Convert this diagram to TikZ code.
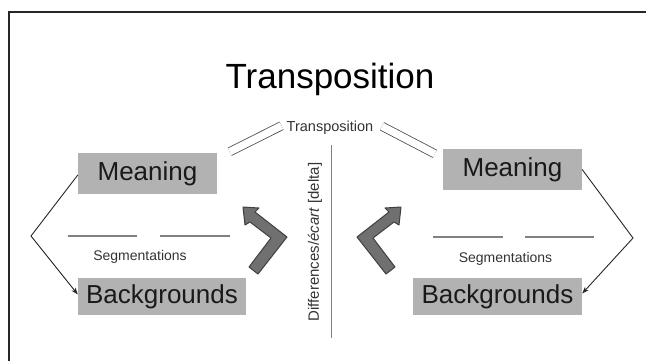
\documentclass[tikz,border=0pt]{standalone}
\usepackage{fontspec}
\setmainfont{Liberation Sans}
\usetikzlibrary{positioning,calc,arrows.meta}

\definecolor{boxgray}{gray}{0.70}
\definecolor{arrowgray}{gray}{0.44}
\definecolor{linegray}{gray}{0.50}

\begin{document}
\begin{tikzpicture}[x=1pt, y=-1pt,
    box/.style = {fill=boxgray, inner sep=0pt, minimum height=41pt, font=\fontsize{26}{30}\selectfont, text=black!90},
    small/.style = {font=\fontsize{14}{16}\selectfont, text=black!80, inner sep=1pt},
    rule/.style = {draw=linegray, line width=1.1pt},
    bracket/.style = {draw=black!85, line width=0.9pt},
    bentarrow/.style = {fill=arrowgray, draw=black!75, line width=1pt, line join=round}]
    \useasboundingbox (0,0) rectangle (646,360);
    % frame
    \draw[line width=2pt, black!85] (9,400) -- (9,12) -- (700,12);
    % Nodes
    \node (title) [anchor=base, font=\fontsize{35}{40}\selectfont] at (330,88) {Transposition};
    \node[small] (tr) [anchor=base, font=\fontsize{14.5}{16}\selectfont] at (330,131) {Transposition};
    \node[box, minimum width=139pt] (lm) at (147.5,173.5) {Meaning};
    \node[box, minimum width=168pt, minimum height=37pt] (lb) at (162,296.5) {Backgrounds};
    \node[box, minimum width=139pt] (rm) at (512.5,169.5) {Meaning};
    \node[box, minimum width=169pt, minimum height=37pt] (rb) at (497.5,296.5) {Backgrounds};
    \node[small, anchor=base] (lseg) at (140,260.5) {Segmentations};
    \node[small, anchor=base] (rseg) at (505.5,262.5) {Segmentations};
    \node (delta) [rotate=90, font=\fontsize{15}{17}\selectfont, text=black!80] at (315,242) {Differences/\textit{écart} [delta]};
    \coordinate (lv) at (31,236);
    \coordinate (rv) at (633,238);
    % Edges
    \draw[bracket, -{Stealth[length=7pt,width=5pt]}] ([yshift=-1.5pt]lm.west) -- (lv) -- ([yshift=2pt]lb.west);
    \draw[bracket, -{Stealth[length=7pt,width=5pt]}] (rm.east) -- (rv) -- ([yshift=3pt]rb.east);
    \draw[draw=black!70, line width=0.8pt, double=white, double distance=7.5pt]
        ($(tr.west)+(-4,-1.5)$) -- ($(lm.north east)+(12.5,-1)$);
    \draw[draw=black!70, line width=0.8pt, double=white, double distance=7.5pt]
        ($(tr.east)+(7.5,-1)$) -- ($(rm.north west)+(-8,5)$);
    \draw[linegray, line width=1.3pt] (331.5,145) -- (331.5,338);
    % segmentation rules
    \draw[rule] (68,236) -- (137,236);
    \draw[rule] (160,236) -- (230,236);
    \draw[rule] (433,237) -- (503,237);
    \draw[rule] (525,237) -- (594,237);
    % bent arrows
    \begin{scope}[shift={(287,237)}]
        \filldraw[bentarrow] (-44,-30) -- (-28,-29) -- (-32,-25) -- (0,0) -- (-29,37) -- (-38,30)
            -- (-16,1) -- (-37,-15) -- (-42,-12) -- cycle;
    \end{scope}
    \begin{scope}[shift={(357,237)}, xscale=-1]
        \filldraw[bentarrow] (-44,-30) -- (-28,-29) -- (-32,-25) -- (0,0) -- (-29,37) -- (-38,30)
            -- (-16,1) -- (-37,-15) -- (-42,-12) -- cycle;
    \end{scope}
\end{tikzpicture}
\end{document}
